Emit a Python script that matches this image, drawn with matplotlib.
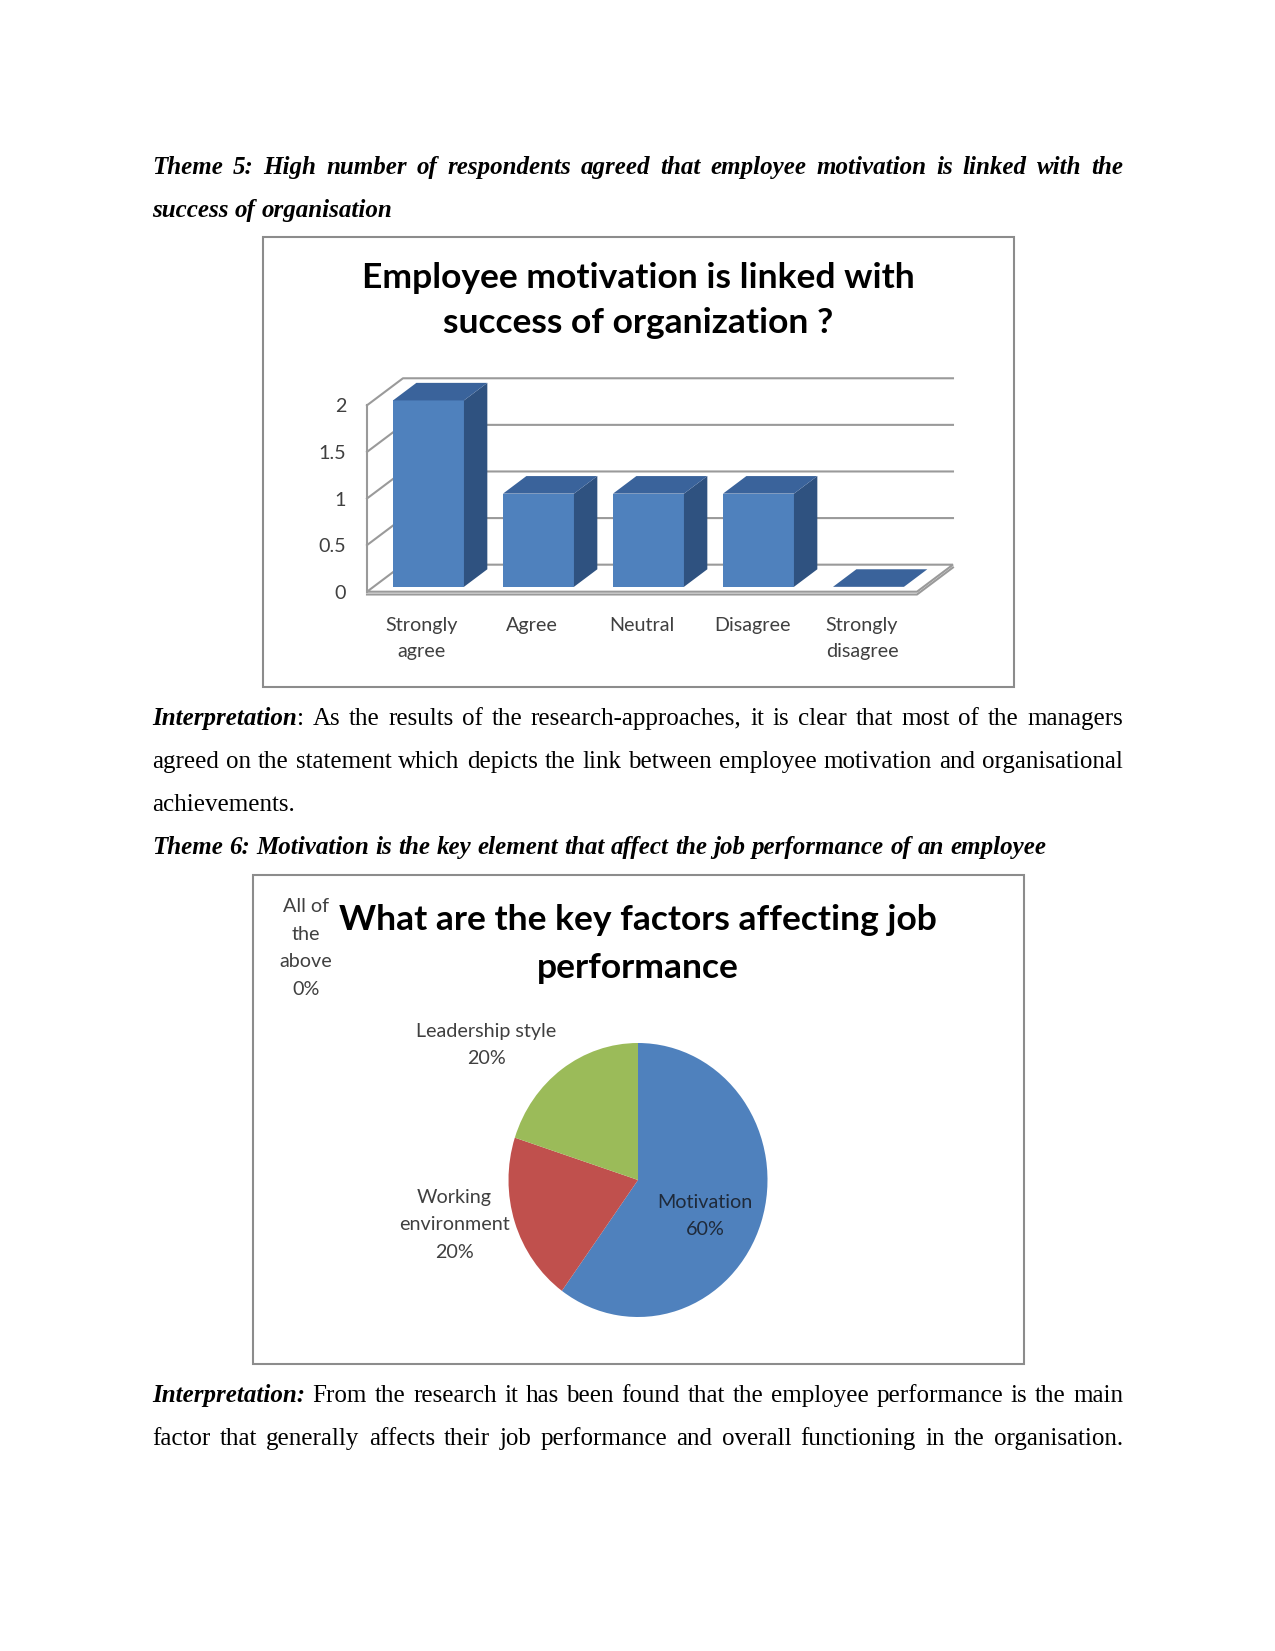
import numpy as np
import matplotlib
matplotlib.use("Agg")
import matplotlib.pyplot as plt
from matplotlib.patches import Polygon, Rectangle

# ---- chart data ----
bar_categories = ["Strongly\nagree", "Agree", "Neutral", "Disagree", "Strongly\ndisagree"]
bar_values = [2, 1, 1, 1, 0]
bar_ticks = [0, 0.5, 1, 1.5, 2]
bar_title = ["Employee motivation is linked with", "success of organization ?"]

pie_labels = ["Motivation", "Working\nenvironment", "Leadership style", "All of\nthe\nabove"]
pie_values = [60, 20, 20, 0]
pie_colors = ["#4F81BD", "#C0504D", "#9BBB59", "#8064A2"]
pie_title = ["What are the key factors affecting job", "performance"]

# ---- page text ----
BI = dict(weight="bold", style="italic")
RG = dict()
body_lines = [
    # (baseline y, justified, runs)
    (174, True, [("Theme 5: High number of respondents agreed that employee motivation is linked with the", BI)]),
    (217, False, [("success of organisation", BI)]),
    (725, True, [("Interpretation", BI), (": As the results of the research-approaches, it is clear that most of the managers", RG)]),
    (768, True, [("agreed on the statement which depicts the link between employee motivation and organisational", RG)]),
    (811, False, [("achievements.", RG)]),
    (854, False, [("Theme 6: Motivation is the key element that affect the job performance of an employee", BI)]),
    (1402, True, [("Interpretation:", BI), (" From the research it has been found that the employee performance is the main", RG)]),
    (1445, True, [("factor that generally affects their job performance and overall functioning in the organisation.", RG)]),
]

W, H = 1275, 1651
fig = plt.figure(figsize=(W / 150, H / 150), dpi=150)
page = fig.add_axes([0, 0, 1, 1])
page.set_xlim(0, W)
page.set_ylim(H, 0)
page.axis("off")

BODY = dict(family="Liberation Serif", fontsize=12, color="black")
CHART_FONT = "Lato"
AXIS_C = "#404040"
GRID_C = "#9a9a9a"

fig.canvas.draw()
renderer = fig.canvas.get_renderer()


def text_width(s, style):
    t = page.text(0, 0, s, **BODY, **style)
    w = t.get_window_extent(renderer).width
    t.remove()
    return w


def split_words(runs):
    words = [[]]
    for text, style in runs:
        parts = text.split(" ")
        for k, p in enumerate(parts):
            if k > 0 and words[-1]:
                words.append([])
            if p:
                words[-1].append((p, style))
    return [w for w in words if w]


LEFT, RIGHT = 152, 1123
space_w = text_width("x x", RG) - 2 * text_width("x", RG)
for y, justify, runs in body_lines:
    words = split_words(runs)
    widths = [sum(text_width(p, st) for p, st in w) for w in words]
    if justify and len(words) > 1:
        gap = (RIGHT - LEFT - sum(widths)) / (len(words) - 1)
    else:
        gap = space_w
    x = LEFT
    for w, ww in zip(words, widths):
        xx = x
        for p, st in w:
            page.text(xx, y, p, ha="left", va="baseline", **BODY, **st)
            xx += text_width(p, st)
        x += ww + gap

# ---- chart frames ----
page.add_patch(Rectangle((263, 237), 751, 450, fill=False, ec="#8c8c8c", lw=1.0))
page.add_patch(Rectangle((253, 875), 771, 489, fill=False, ec="#8c8c8c", lw=1.0))

# ---- 3D style bar chart ----
for k, line in enumerate(bar_title):
    page.text(638, 288 + 45 * k, line, ha="center", va="baseline", family=CHART_FONT,
              fontsize=17, weight="bold", color="black")

px_x, px_y = 110.0, 93.2          # pixels per category / per unit
x0_px, y0_px = 367, 591.7         # front-left corner of the floor
dx, dy = 0.327, 0.29              # depth vector in data units
f0, f1 = 0.18, 0.83               # bar front/back as fraction of depth
bw = 0.645
n = len(bar_values)
x_left, x_right = -0.5, n - 0.5
top = max(bar_ticks)

xlim = (x_left, x_right + dx + 0.01)
ylim = (0, top + dy + 0.01)
ax = fig.add_axes([x0_px / W, (H - y0_px) / H,
                   (xlim[1] - xlim[0]) * px_x / W, (ylim[1] - ylim[0]) * px_y / H])
ax.set_xlim(*xlim)
ax.set_ylim(*ylim)
for s in ax.spines.values():
    s.set_visible(False)
ax.patch.set_alpha(0)

# floor
ax.add_patch(Polygon([(x_left, 0), (x_right, 0), (x_right + dx, dy), (x_left + dx, dy)],
                     closed=True, fc="white", ec=GRID_C, lw=1.0, zorder=1, clip_on=False))
ax.plot([x_left, x_right, x_right + dx], [-0.03, -0.03, dy - 0.03], color=GRID_C, lw=1.0,
        clip_on=False, zorder=1)
# left wall and grid lines
ax.plot([x_left, x_left], [0, top], color=GRID_C, lw=1.0, clip_on=False, zorder=1)
for v in bar_ticks[1:]:
    ax.plot([x_left, x_left + dx, x_right + dx], [v, v + dy, v + dy], color=GRID_C, lw=1.0,
            clip_on=False, zorder=1)

# bars
ddx, ddy = (f1 - f0) * dx, (f1 - f0) * dy
for i, v in enumerate(bar_values):
    xf = i - bw / 2 + f0 * dx
    yf = f0 * dy
    top_face = [(xf, yf + v), (xf + bw, yf + v), (xf + bw + ddx, yf + v + ddy), (xf + ddx, yf + v + ddy)]
    if v > 0:
        ax.add_patch(Polygon([(xf, yf), (xf + bw, yf), (xf + bw, yf + v), (xf, yf + v)],
                             closed=True, fc="#4F81BD", ec="none", zorder=3, clip_on=False))
        ax.add_patch(Polygon([(xf + bw, yf), (xf + bw, yf + v), (xf + bw + ddx, yf + v + ddy),
                              (xf + bw + ddx, yf + ddy)],
                             closed=True, fc="#2F5280", ec="none", zorder=3, clip_on=False))
    ax.add_patch(Polygon(top_face, closed=True, fc="#3A639B", ec="none", zorder=3, clip_on=False))

ax.set_yticks(bar_ticks)
ax.set_yticklabels([f"{v:g}" for v in bar_ticks], family=CHART_FONT, fontsize=9.5, color=AXIS_C)
ax.set_xticks(range(n))
ax.set_xticklabels(bar_categories, family=CHART_FONT, fontsize=9.5, color=AXIS_C, linespacing=1.65)
ax.tick_params(axis="y", length=0, pad=10)
ax.tick_params(axis="x", length=0, pad=12)

# ---- pie chart ----
for k, line in enumerate(pie_title):
    page.text(638, 930 + 48 * k, line, ha="center", va="baseline", family=CHART_FONT,
              fontsize=17, weight="bold", color="black")

cx, cy, rx, ry = 638, 1180, 129.5, 137
ax2 = fig.add_axes([(cx - rx) / W, (H - cy - ry) / H, 2 * rx / W, 2 * ry / H])
ax2.pie(pie_values, colors=pie_colors, startangle=90, counterclock=False,
        wedgeprops=dict(linewidth=0))
ax2.set_aspect("auto")
ax2.set_xlim(-1, 1)
ax2.set_ylim(-1, 1)

label_pos = [(705, 1216), (454, 1225), (486, 1045), (306, 948)]
label_col = ["#1f2a3a", AXIS_C, AXIS_C, AXIS_C]
for lab, val, (lx, ly), c in zip(pie_labels, pie_values, label_pos, label_col):
    fig.text(lx, ly, f"{lab}\n{val}%", transform=page.transData, ha="center", va="center",
             family=CHART_FONT, fontsize=9.5, color=c, linespacing=1.75, zorder=5)

fig.savefig("out.png", dpi=150)
